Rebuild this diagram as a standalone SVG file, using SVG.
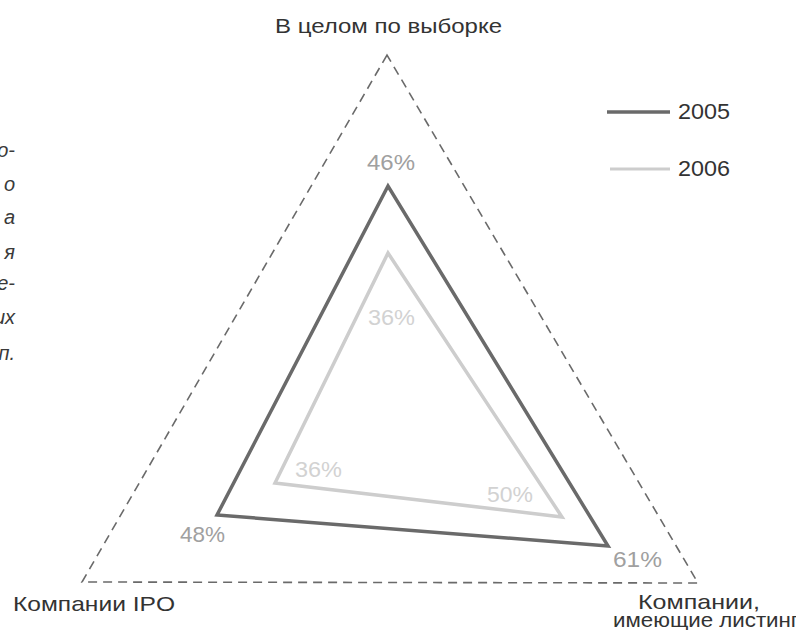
<svg xmlns="http://www.w3.org/2000/svg" width="796" height="630" viewBox="0 0 796 630">
<style>
text{font-family:"Liberation Sans",Arial,sans-serif;}
.lab{font-size:21px;fill:#333;}
.axis{fill:none;stroke:#6a6a6a;stroke-width:1.6;stroke-dasharray:9 6;}
.y05{fill:none;stroke:#6a6a6a;stroke-width:3.5;stroke-linejoin:miter;}
.y06{fill:none;stroke:#cdcdcd;stroke-width:3.5;stroke-linejoin:miter;}
.p05{font-size:22px;fill:#a0a0a0;}
.p06{font-size:22px;fill:#d2d2d2;}
.side{font-size:20px;font-style:italic;fill:#3a3a3a;text-anchor:end;}
.leg{font-size:22px;fill:#333;}
</style>
<rect width="796" height="630" fill="#fff"/>
<g id="side-text">
<text class="side" x="15" y="157">о-</text>
<text class="side" x="15" y="191">о</text>
<text class="side" x="15" y="224">а</text>
<text class="side" x="15" y="259">я</text>
<text class="side" x="15" y="290">е-</text>
<text class="side" x="15" y="324">их</text>
<text class="side" x="15" y="360">п.</text>
</g>
<g id="frame">
<polygon class="axis" points="387,55 82,582 698,583"/>
</g>
<g id="axis-top"><text class="lab" x="275" y="33" font-size="22" textLength="227" lengthAdjust="spacingAndGlyphs">В целом по выборке</text></g>
<g id="axis-left"><text class="lab" x="13" y="611" textLength="162" lengthAdjust="spacingAndGlyphs">Компании IPO</text></g>
<g id="axis-right">
<text class="lab" x="638" y="609" font-size="19" textLength="122" lengthAdjust="spacingAndGlyphs">Компании,</text>
<text class="lab" x="613" y="627" font-size="19" textLength="186" lengthAdjust="spacingAndGlyphs">имеющие листинг</text>
</g>
<g id="connectors">
<polygon id="series-2006" class="y06" points="388,253 275,483 562,517"/>
<polygon id="series-2005" class="y05" points="388,186 217,515 608,546"/>
</g>
<g id="labels-2005">
<text class="p05" x="367" y="170" textLength="48" lengthAdjust="spacingAndGlyphs">46%</text>
<text class="p05" x="180" y="542" textLength="45" lengthAdjust="spacingAndGlyphs">48%</text>
<text class="p05" x="613" y="567" textLength="49" lengthAdjust="spacingAndGlyphs">61%</text>
</g>
<g id="labels-2006">
<text class="p06" x="368" y="325" textLength="47" lengthAdjust="spacingAndGlyphs">36%</text>
<text class="p06" x="295" y="477" textLength="47" lengthAdjust="spacingAndGlyphs">36%</text>
<text class="p06" x="487" y="502" textLength="46" lengthAdjust="spacingAndGlyphs">50%</text>
</g>
<g id="legend">
<line x1="607" y1="112" x2="670" y2="112" stroke="#6a6a6a" stroke-width="3.5"/>
<text class="leg" x="678" y="119" textLength="52" lengthAdjust="spacingAndGlyphs">2005</text>
<line x1="610" y1="169" x2="670" y2="169" stroke="#cdcdcd" stroke-width="3"/>
<text class="leg" x="678" y="176" textLength="52" lengthAdjust="spacingAndGlyphs">2006</text>
</g>
</svg>
